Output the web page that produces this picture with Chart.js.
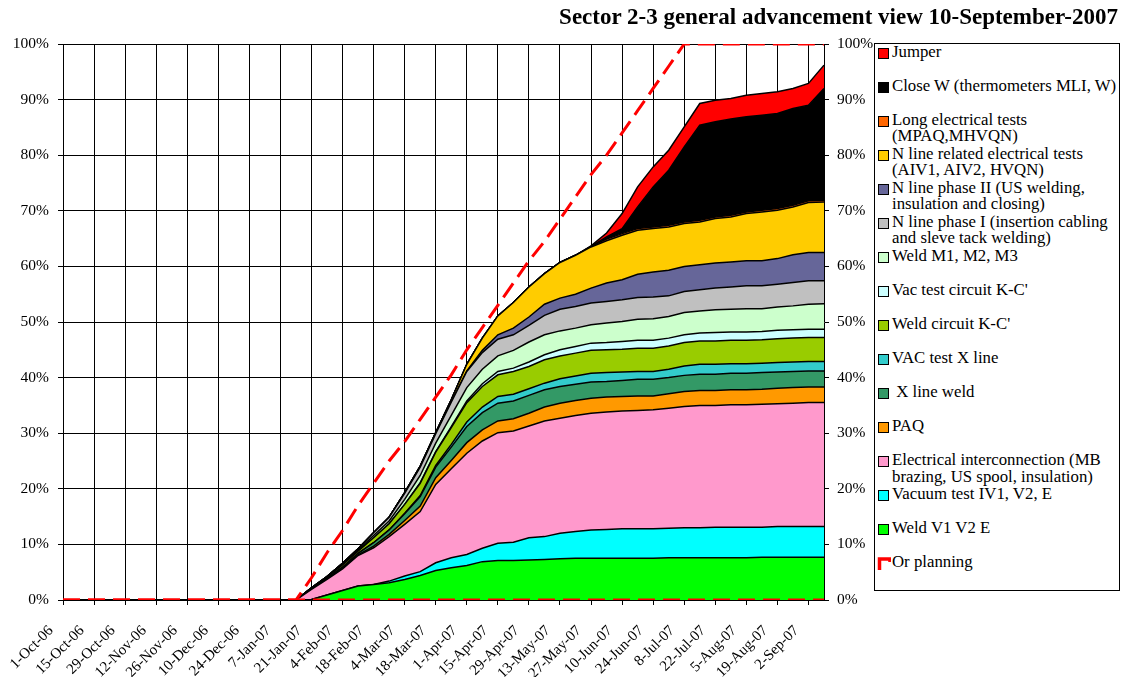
<!DOCTYPE html>
<html>
<head>
<meta charset="utf-8">
<title>Sector 2-3 general advancement view</title>
<script src="https://cdn.jsdelivr.net/npm/chart.js@4.4.0/dist/chart.umd.min.js"></script>
<style>
  body { margin: 0; background: #fff; font-family: "Liberation Serif", serif; color: #000; }
  #wrap { position: relative; width: 1123px; height: 677px; overflow: hidden; }
  #chartBox { position: absolute; left: 0; top: 0; width: 874px; height: 677px; }
  #title { position: absolute; right: 5px; top: 5px; font: bold 23px "Liberation Serif", serif; line-height: 23px; white-space: nowrap; }
  #legend { position: absolute; left: 874px; top: 43px; width: 246px; height: 548px; box-sizing: border-box; border: 1px solid #000; }
  .item { position: absolute; left: 3px; font-size: 16.8px; line-height: 16.7px; white-space: pre; }
  .item .txt { display: block; margin-left: 14px; }
  .sw { position: absolute; left: 0; top: 4px; width: 9px; height: 9px; border: 1px solid #000; }
  .plan { position: absolute; left: -1px; top: 3px; }
</style>
</head>
<body>
<div id="wrap">
  <div id="chartBox"><canvas id="myChart"></canvas></div>
  <div id="title">Sector 2-3 general advancement view 10-September-2007</div>
  <div id="legend"></div>
</div>
<script>
const weekLabels = [
  '1-Oct-06', '8-Oct-06', '15-Oct-06', '22-Oct-06', '29-Oct-06', '5-Nov-06', '12-Nov-06', '19-Nov-06', '26-Nov-06', '3-Dec-06',
  '10-Dec-06', '17-Dec-06', '24-Dec-06', '31-Dec-06', '7-Jan-07', '14-Jan-07', '21-Jan-07', '28-Jan-07', '4-Feb-07', '11-Feb-07',
  '18-Feb-07', '25-Feb-07', '4-Mar-07', '11-Mar-07', '18-Mar-07', '25-Mar-07', '1-Apr-07', '8-Apr-07', '15-Apr-07', '22-Apr-07',
  '29-Apr-07', '6-May-07', '13-May-07', '20-May-07', '27-May-07', '3-Jun-07', '10-Jun-07', '17-Jun-07', '24-Jun-07', '1-Jul-07',
  '8-Jul-07', '15-Jul-07', '22-Jul-07', '29-Jul-07', '5-Aug-07', '12-Aug-07', '19-Aug-07', '26-Aug-07', '2-Sep-07', '9-Sep-07'
];

// weekly progress of each activity, % of sector (stacked bottom to top)
const weldV1V2E = [
  0, 0, 0, 0, 0, 0, 0, 0, 0, 0,
  0, 0, 0, 0, 0, 0, 0.1, 0.9, 1.7, 2.5,
  2.8, 3.1, 3.7, 4.4, 5.3, 5.8, 6.2, 6.9, 7.1, 7.1,
  7.2, 7.3, 7.4, 7.5, 7.5, 7.5, 7.5, 7.5, 7.5, 7.6,
  7.6, 7.6, 7.6, 7.6, 7.6, 7.7, 7.7, 7.7, 7.7, 7.7
];
const vacuumTest = [
  0, 0, 0, 0, 0, 0, 0, 0, 0, 0,
  0, 0, 0, 0, 0, 0, 0, 0, 0, 0,
  0, 0.3, 0.6, 0.7, 1.4, 1.8, 2.0, 2.4, 3.1, 3.3,
  4.0, 4.1, 4.6, 4.8, 5.1, 5.2, 5.3, 5.3, 5.3, 5.3,
  5.4, 5.4, 5.5, 5.5, 5.5, 5.4, 5.5, 5.5, 5.5, 5.5
];
const electricalInterconnection = [
  0, 0, 0, 0, 0, 0, 0, 0, 0, 0,
  0, 0, 0, 0, 0, 0, 1.8, 2.8, 3.9, 5.5,
  6.6, 8.0, 9.3, 10.8, 14.1, 16.0, 18.2, 19.3, 19.9, 20.0,
  20.1, 20.8, 20.7, 20.9, 21.0, 21.1, 21.2, 21.3, 21.4, 21.6,
  21.8, 22.0, 21.9, 22.0, 22.0, 22.1, 22.1, 22.2, 22.3, 22.3
];
const paq = [
  0, 0, 0, 0, 0, 0, 0, 0, 0, 0,
  0, 0, 0, 0, 0, 0, 0, 0.1, 0.1, 0.1,
  0.3, 0.4, 0.7, 1.0, 1.2, 1.5, 1.9, 2.0, 2.1, 2.2,
  2.3, 2.5, 2.7, 2.7, 2.7, 2.7, 2.6, 2.6, 2.5, 2.6,
  2.7, 2.7, 2.7, 2.7, 2.7, 2.7, 2.8, 2.8, 2.8, 2.8
];
const xLineWeld = [
  0, 0, 0, 0, 0, 0, 0, 0, 0, 0,
  0, 0, 0, 0, 0, 0, 0.1, 0.1, 0.2, 0.3,
  0.6, 0.8, 1.2, 1.7, 1.9, 2.4, 2.9, 3.1, 3.2, 3.2,
  3.2, 3.1, 3.0, 2.9, 2.9, 2.8, 2.9, 3.0, 3.0, 2.9,
  2.9, 2.9, 2.9, 3.0, 3.0, 3.0, 2.9, 2.9, 2.9, 2.9
];
const vacTestXLine = [
  0, 0, 0, 0, 0, 0, 0, 0, 0, 0,
  0, 0, 0, 0, 0, 0, 0, 0, 0, 0,
  0, 0, 0.1, 0.2, 0.3, 0.5, 0.8, 1.0, 1.2, 1.2,
  1.2, 1.2, 1.4, 1.5, 1.6, 1.6, 1.5, 1.4, 1.4, 1.5,
  1.7, 1.8, 1.8, 1.7, 1.7, 1.7, 1.7, 1.7, 1.7, 1.7
];
const weldCircuitKC = [
  0, 0, 0, 0, 0, 0, 0, 0, 0, 0,
  0, 0, 0, 0, 0, 0, 0.1, 0.2, 0.4, 0.4,
  0.9, 1.1, 1.6, 2.2, 2.4, 3.0, 3.5, 3.7, 3.9, 4.1,
  4.0, 4.2, 4.1, 4.1, 4.1, 4.1, 4.1, 4.2, 4.2, 4.2,
  4.2, 4.2, 4.2, 4.2, 4.2, 4.2, 4.3, 4.3, 4.3, 4.3
];
const vacTestCircuitKC = [
  0, 0, 0, 0, 0, 0, 0, 0, 0, 0,
  0, 0, 0, 0, 0, 0, 0, 0, 0, 0,
  0, 0, 0, 0.1, 0.1, 0.2, 0.3, 0.5, 0.6, 0.6,
  0.8, 0.9, 1.1, 1.2, 1.3, 1.3, 1.4, 1.4, 1.4, 1.4,
  1.4, 1.4, 1.5, 1.5, 1.5, 1.5, 1.5, 1.5, 1.5, 1.5
];
const weldM1M2M3 = [
  0, 0, 0, 0, 0, 0, 0, 0, 0, 0,
  0, 0, 0, 0, 0, 0, 0, 0, 0.1, 0.2,
  0.4, 0.5, 0.9, 1.3, 1.5, 2.0, 2.4, 2.6, 2.8, 3.2,
  3.6, 3.6, 3.4, 3.3, 3.3, 3.5, 3.6, 3.8, 3.9, 3.9,
  4.0, 4.0, 4.1, 4.1, 4.2, 4.1, 4.2, 4.3, 4.5, 4.6
];
const nLinePhase1 = [
  0, 0, 0, 0, 0, 0, 0, 0, 0, 0,
  0, 0, 0, 0, 0, 0, 0.1, 0.1, 0.2, 0.2,
  0.5, 0.7, 1.1, 1.5, 1.7, 2.4, 2.9, 3.0, 3.0, 2.8,
  3.0, 3.5, 3.9, 3.9, 3.9, 3.9, 3.9, 3.9, 3.9, 3.7,
  3.8, 3.8, 3.9, 4.0, 4.1, 4.1, 4.1, 4.2, 4.2, 4.1
];
const nLinePhase2 = [
  0, 0, 0, 0, 0, 0, 0, 0, 0, 0,
  0, 0, 0, 0, 0, 0, 0, 0, 0, 0,
  0, 0, 0, 0, 0, 0, 0.1, 0.4, 0.8, 1.2,
  1.5, 2.0, 2.0, 2.2, 2.7, 3.3, 3.6, 4.2, 4.5, 4.6,
  4.5, 4.5, 4.5, 4.5, 4.5, 4.5, 4.6, 5.0, 5.1, 5.1
];
const nLineTests = [
  0, 0, 0, 0, 0, 0, 0, 0, 0, 0,
  0, 0, 0, 0, 0, 0, 0, 0, 0, 0,
  0, 0, 0.1, 0.2, 0.2, 0.4, 1.2, 2.2, 3.4, 4.6,
  5.4, 5.5, 6.4, 7.0, 7.4, 7.6, 8.0, 7.9, 7.8, 7.8,
  7.7, 7.7, 8.0, 8.1, 8.5, 8.8, 8.7, 8.6, 9.0, 9.1
];
const longElecTests = [
  0, 0, 0, 0, 0, 0, 0, 0, 0, 0,
  0, 0, 0, 0, 0, 0, 0, 0, 0, 0,
  0, 0, 0, 0, 0, 0, 0, 0, 0, 0,
  0, 0, 0, 0, 0.1, 0.3, 0.3, 0.3, 0.3, 0.3,
  0.3, 0.3, 0.3, 0.3, 0.3, 0.3, 0.3, 0.3, 0.3, 0.3
];
const closeW = [
  0, 0, 0, 0, 0, 0, 0, 0, 0, 0,
  0, 0, 0, 0, 0, 0, 0, 0, 0, 0,
  0, 0, 0, 0, 0, 0, 0, 0, 0, 0,
  0, 0, 0, 0, 0, 0.4, 0.9, 3.9, 7.2, 9.9,
  13.5, 17.1, 17.1, 17.3, 17.1, 17.1, 17.1, 17.4, 17.2, 20.1
];
const jumper = [
  0, 0, 0, 0, 0, 0, 0, 0, 0, 0,
  0, 0, 0, 0, 0, 0, 0, 0, 0, 0,
  0, 0, 0, 0, 0, 0, 0, 0, 0, 0,
  0, 0, 0, 0, 0.1, 0.7, 2.7, 3.6, 3.6, 3.6,
  3.6, 3.9, 3.9, 3.7, 3.9, 3.9, 3.9, 3.6, 3.9, 4.2
];
// planned cumulative progress
const planning = [
  0, 0, 0, 0, 0, 0, 0, 0, 0, 0,
  0, 0, 0, 0, 0, 0, 4, 8.5, 12.5, 17,
  21, 25, 28.5, 32.5, 36.5, 40.5, 45, 49, 53, 57,
  61, 64.5, 68.5, 72.5, 76.5, 80, 84, 88, 92, 96,
  100, 100, 100, 100, 100, 100, 100, 100, 100, 100
];
const planningBase = [
  0, 0, 0, 0, 0, 0, 0, 0, 0, 0,
  0, 0, 0, 0, 0, 0, 0, 0, 0, 0,
  0, 0, 0, 0, 0, 0, 0, 0, 0, 0,
  0, 0, 0, 0, 0, 0, 0, 0, 0, 0,
  0, 0, 0, 0, 0, 0, 0, 0, 0, 0
];

const seriesNames = [
  'Weld V1 V2 E',
  'Vacuum test IV1, V2, E',
  'Electrical interconnection (MB\nbrazing, US spool, insulation)',
  'PAQ',
  ' X line weld',
  'VAC test X line',
  "Weld circuit K-C'",
  "Vac test circuit K-C'",
  'Weld M1, M2, M3',
  'N line phase I (insertion cabling\nand sleve tack welding)',
  'N line phase II (US welding,\ninsulation and closing)',
  'N line related electrical tests\n(AIV1, AIV2, HVQN)',
  'Long electrical tests\n(MPAQ,MHVQN)',
  'Close W (thermometers MLI, W)',
  'Jumper'
];
const seriesColors = [
  '#00ff00', '#00ffff', '#ff99cc', '#ff9900', '#339966', '#33cccc', '#99cc00',
  '#ccffff', '#ccffcc', '#c0c0c0', '#666699', '#ffcc00', '#ff6600', '#000000', '#ff0000'
];
const planningName = 'Or planning';

const areaSeries = [
  weldV1V2E, vacuumTest, electricalInterconnection, paq, xLineWeld, vacTestXLine, weldCircuitKC,
  vacTestCircuitKC, weldM1M2M3, nLinePhase1, nLinePhase2, nLineTests, longElecTests, closeW, jumper
];

const datasets = areaSeries.map((data, i) => ({
  label: seriesNames[i],
  data: data,
  backgroundColor: seriesColors[i],
  borderColor: '#000',
  borderWidth: 1.5,
  fill: i === 0 ? 'origin' : '-1',
  stack: 'work',
  pointRadius: 0,
  tension: 0
}));
datasets.push({
  label: planningName,
  data: planning,
  borderColor: '#ff0000',
  borderWidth: 3,
  borderDash: [17, 8],
  fill: false,
  stack: 'plan',
  pointRadius: 0,
  tension: 0,
  order: -1
});
datasets.push({
  label: 'base',
  data: planningBase,
  borderColor: '#ff0000',
  borderWidth: 3,
  borderDash: [17, 8],
  fill: false,
  stack: 'base',
  pointRadius: 0,
  tension: 0,
  order: -1
});

const serif = 'Liberation Serif';
const pct = v => v + '%';

const ctx = document.getElementById('myChart').getContext('2d');
const myChart = new Chart(ctx, {
  type: 'line',
  data: { labels: weekLabels, datasets: datasets },
  options: {
    responsive: true,
    maintainAspectRatio: false,
    animation: false,
    layout: { padding: { top: 44, left: 0, right: 0, bottom: 0 } },
    plugins: {
      legend: { display: false },
      title: { display: false },
      tooltip: { enabled: false }
    },
    scales: {
      x: {
        offset: false,
        ticks: {
          autoSkip: false,
          maxRotation: 45,
          minRotation: 45,
          color: '#000',
          padding: 17,
          labelOffset: -12,
          font: { family: serif, size: 15 },
          callback: (v, i) => (i % 2 === 0 ? weekLabels[i] : null)
        },
        grid: { color: '#000', lineWidth: 1, tickLength: 5 },
        border: { color: '#000', width: 1 },
        afterFit: s => { s.height = 77; }
      },
      y: {
        stacked: true,
        min: 0,
        max: 100,
        ticks: { stepSize: 10, callback: pct, padding: 9, color: '#000', font: { family: serif, size: 15.5 } },
        grid: { color: '#000', lineWidth: 1, tickLength: 5 },
        border: { color: '#000', width: 1 },
        afterFit: s => { s.width = 63; }
      },
      y2: {
        position: 'right',
        min: 0,
        max: 100,
        ticks: { stepSize: 10, callback: pct, padding: 8, color: '#000', font: { family: serif, size: 15.5 } },
        grid: { drawOnChartArea: false, color: '#000', tickLength: 5 },
        border: { color: '#000', width: 1 },
        afterFit: s => { s.width = 50; }
      }
    }
  }
});

// legend, top entry first like the original
const legendEl = document.getElementById('legend');
const rowStep = 34.05;
const legendOrder = areaSeries.map((_, i) => i).reverse();
legendOrder.forEach((idx, k) => {
  const item = document.createElement('div');
  item.className = 'item';
  item.style.top = (-0.5 + rowStep * k) + 'px';
  const sw = document.createElement('div');
  sw.className = 'sw';
  sw.style.background = seriesColors[idx];
  const txt = document.createElement('span');
  txt.className = 'txt';
  txt.textContent = seriesNames[idx];
  item.appendChild(sw);
  item.appendChild(txt);
  legendEl.appendChild(item);
});
const planItem = document.createElement('div');
planItem.className = 'item';
planItem.style.top = (-0.5 + rowStep * 15) + 'px';
planItem.innerHTML = '<svg class="plan" width="14" height="13"><path d="M2.5 13 V2 H13 V5" fill="none" stroke="#ff0000" stroke-width="3.5"/></svg>';
const planTxt = document.createElement('span');
planTxt.className = 'txt';
planTxt.textContent = planningName;
planItem.appendChild(planTxt);
legendEl.appendChild(planItem);
</script>
</body>
</html>
